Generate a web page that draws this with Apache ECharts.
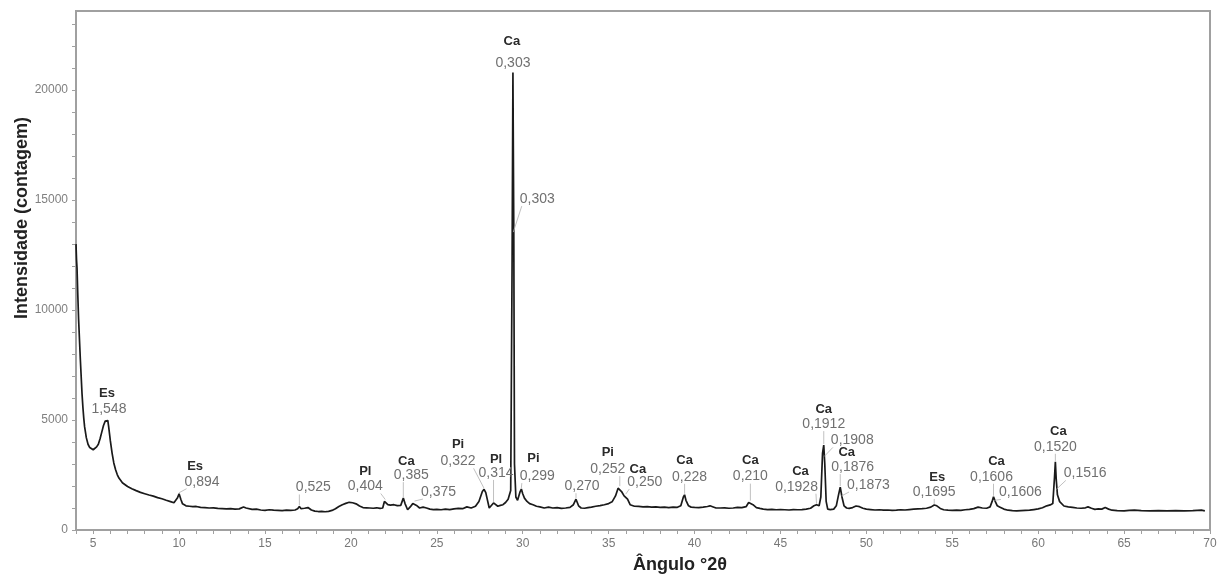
<!DOCTYPE html>
<html><head><meta charset="utf-8">
<script src="https://cdn.jsdelivr.net/npm/echarts@6/dist/echarts.min.js"></script>
<style>html,body{margin:0;padding:0;background:#fff}#c{width:1224px;height:579px}</style>
</head><body><div id="c"></div>
<script>
// ---- data ----
const theta = [4.00,4.03,4.06,4.10,4.15,4.20,4.25,4.30,4.35,4.40,4.45,4.50,4.60,4.70,4.80,4.90,5.00,5.10,5.20,5.30,5.40,5.50,5.60,5.70,5.80,5.85,5.90,6.00,6.10,6.20,6.30,6.40,6.50,6.70,7.00,7.25,7.50,7.75,8.00,8.25,8.50,8.75,9.00,9.25,9.50,9.70,9.80,9.90,10.00,10.10,10.20,10.40,10.60,10.80,11.00,11.25,11.50,11.75,12.00,12.25,12.50,12.75,13.00,13.25,13.50,13.75,13.90,14.00,14.25,14.50,14.75,15.00,15.25,15.50,15.75,16.00,16.25,16.50,16.75,16.90,17.00,17.10,17.30,17.50,17.70,17.90,18.10,18.30,18.50,18.70,18.90,19.10,19.30,19.50,19.70,19.90,20.10,20.30,20.50,20.70,20.90,21.10,21.30,21.50,21.70,21.85,21.95,22.05,22.15,22.30,22.50,22.70,22.90,23.05,23.15,23.30,23.45,23.60,23.70,23.85,24.00,24.20,24.40,24.60,24.80,25.00,25.25,25.50,25.75,26.00,26.25,26.50,26.75,27.00,27.25,27.45,27.65,27.75,27.85,27.95,28.05,28.15,28.30,28.40,28.55,28.70,28.85,29.00,29.15,29.30,29.38,29.43,29.48,29.52,29.60,29.70,29.85,29.92,30.00,30.10,30.25,30.40,30.60,30.80,31.00,31.25,31.50,31.75,32.00,32.25,32.50,32.75,32.95,33.10,33.25,33.40,33.60,33.80,34.00,34.25,34.50,34.75,35.00,35.20,35.40,35.55,35.65,35.75,35.90,36.00,36.10,36.25,36.50,36.75,37.00,37.25,37.50,37.75,38.00,38.25,38.50,38.75,39.00,39.20,39.35,39.42,39.50,39.65,39.80,40.00,40.25,40.50,40.75,40.90,41.05,41.25,41.50,41.75,42.00,42.25,42.50,42.75,43.00,43.15,43.25,43.40,43.60,43.80,44.00,44.25,44.50,44.75,45.00,45.25,45.50,45.75,46.00,46.25,46.50,46.75,46.95,47.10,47.25,47.35,47.45,47.52,47.58,47.66,47.75,47.90,48.10,48.25,48.38,48.48,48.58,48.70,48.85,49.00,49.20,49.40,49.60,49.80,50.00,50.25,50.50,50.75,51.00,51.25,51.50,51.75,52.00,52.25,52.50,52.75,53.00,53.25,53.50,53.75,53.95,54.10,54.30,54.50,54.75,55.00,55.25,55.50,55.75,56.00,56.25,56.50,56.75,57.00,57.20,57.32,57.40,57.50,57.62,57.75,58.00,58.25,58.50,58.75,59.00,59.25,59.50,59.75,60.00,60.25,60.50,60.70,60.85,60.95,61.00,61.05,61.12,61.25,61.50,61.75,62.00,62.25,62.50,62.75,62.90,63.10,63.30,63.50,63.70,63.90,64.10,64.30,64.60,65.00,65.30,65.60,66.00,66.50,67.00,67.50,68.00,68.50,69.00,69.50,69.70];
const counts = [13000,12300,11900,10800,9600,8700,7800,7000,6200,5600,5100,4700,4200,3900,3750,3680,3650,3700,3780,3900,4150,4450,4750,4950,5020,4980,4700,4050,3500,3050,2750,2520,2360,2150,1980,1880,1790,1710,1650,1590,1540,1470,1420,1350,1290,1240,1250,1450,1650,1400,1190,1100,1080,1060,1070,1030,1020,1000,1010,980,970,960,970,950,960,1050,1000,960,940,950,910,890,920,900,890,880,900,890,910,970,1070,970,990,1020,910,860,840,850,830,850,890,970,1070,1150,1210,1260,1240,1190,1090,1020,1010,1000,990,1010,980,1000,1300,1340,1150,1130,1150,1110,1120,1450,1200,920,1050,1200,1270,1100,1000,1040,1000,950,930,940,920,950,930,960,980,970,1050,1000,1080,1300,1750,1850,1700,1350,1000,1050,1230,1160,1080,1120,1150,1250,1400,1800,12000,20800,13500,3000,1500,1350,1750,1860,1650,1450,1300,1200,1150,1080,1050,1000,1040,1000,1020,980,1000,1030,1150,1400,1100,1000,990,1020,1040,1080,1110,1150,1200,1280,1550,1900,1950,1750,1550,1590,1400,1150,1080,1070,1050,1060,1040,1050,1030,1040,1020,1040,1030,1100,1500,1600,1350,1100,1040,1030,1020,1040,1070,1100,1060,1000,1000,1010,990,1000,1030,1020,1060,1250,1290,1150,1020,980,950,930,940,920,930,920,910,930,920,930,950,990,1100,1150,1100,1500,3500,3860,3000,1300,950,930,950,1100,1600,1950,1500,1100,1000,980,1020,1090,1060,990,950,930,910,920,900,910,890,900,920,910,930,950,960,970,990,1040,1140,1100,980,920,900,890,900,890,920,940,970,1040,1000,990,1050,1300,1510,1300,1100,1050,950,900,880,870,880,890,900,930,960,1010,1100,1140,1200,2400,3100,2300,1600,1290,1090,1050,1030,1000,990,1010,1050,990,940,960,950,1020,950,900,880,870,890,900,880,870,880,870,880,870,880,900,870];
const xTickLabels = [5,10,15,20,25,30,35,40,45,50,55,60,65,70];
const yTickLabels = [0,5000,10000,15000,20000];

// peak annotations: position, phase, d-spacing
const peakTheta = [5.8,10.0,17.0,22.0,23.05,23.7,27.75,28.3,29.43,29.45,29.92,33.1,35.65,36.0,39.42,43.25,47.1,47.52,47.55,48.48,48.55,53.95,57.4,57.45,61.0,61.05];
const peakCount = [5000,1650,1070,1340,1450,1270,1850,1230,20800,13500,1860,1400,1950,1590,1600,1290,1150,3860,3300,1950,1500,1140,1510,1300,3100,1800];
const peakPhase = ['Es','Es','','Pl','Ca','','Pi','Pl','Ca','','Pi','','Pi','Ca','Ca','Ca','Ca','Ca','','Ca','','Es','Ca','','Ca',''];
const peakD = ['1,548','0,894','0,525','0,404','0,385','0,375','0,322','0,314','0,303','0,303','0,299','0,270','0,252','0,250','0,228','0,210','0,1928','0,1912','0,1908','0,1876','0,1873','0,1695','0,1606','0,1606','0,1520','0,1516'];

// ---- layout of annotation texts (pixel offsets) ----
const labelDx = [2,23,14,-20,8,24,-26,2.5,0,24,16,6,-12,19,5,0,-20,0,28,12.5,27,0,-2,26,0,29];
const labelDy = [-11,-12,-19,-14,-23,-10,-28,-30,-9,-34,-13,-13,-18,-13,-18,-25,-18,-21,-17,-20,-12,-13,-20,-9,-15,-17];
const phaseDx = [-2,-7,0,0,-5,0,0,0,-1,0,-4,0,0,-7,-5,0,4,0,0,-6,0,3,5,0,3,0];
const phaseDy = [-16,-15,0,-15,-14,0,-17,-14,-22,0,-18,0,-17,-13,-16,-16,-15,-15,0,-15,0,-15,-15,0,-15,0];
const hasLeader = [0,1,1,1,1,1,1,1,0,1,1,1,1,1,1,1,1,1,1,1,1,1,1,1,1,1];

const AXIS = '#a0a0a0';
const FONT = '"Liberation Sans", Arial, sans-serif';
const chart = echarts.init(document.getElementById('c'), null, {renderer: 'canvas'});
chart.setOption({
  animation: false,
  grid: {left: 76, right: 14, top: 11, bottom: 49, show: true, borderColor: AXIS, borderWidth: 2, backgroundColor: 'transparent'},
  xAxis: {
    type: 'value', min: 4, max: 70, interval: 1,
    axisLine: {show: true, onZero: false, lineStyle: {color: AXIS, width: 2}},
    axisTick: {show: true, length: 4, lineStyle: {color: AXIS, width: 1}},
    axisLabel: {formatter: v => xTickLabels.includes(Math.round(v)) && Math.abs(v - Math.round(v)) < 1e-6 ? String(Math.round(v)) : '', color: '#777', fontSize: 12, fontFamily: FONT, margin: 8, showMinLabel: true, showMaxLabel: true},
    splitLine: {show: false}
  },
  yAxis: {
    type: 'value', min: 0, max: 23600, interval: 1000,
    axisLine: {show: true, onZero: false, lineStyle: {color: AXIS, width: 2}},
    axisTick: {show: true, length: 4, lineStyle: {color: AXIS, width: 1}},
    axisLabel: {formatter: v => yTickLabels.includes(v) ? String(v) : '', color: '#808080', fontSize: 12, fontFamily: FONT, margin: 8, showMaxLabel: false},
    splitLine: {show: false}
  },
  series: [{
    type: 'line', data: theta.map((t, i) => [t, counts[i]]),
    showSymbol: false, symbol: 'none', sampling: null,
    lineStyle: {color: '#1a1a1a', width: 1.7}, z: 3
  }]
});

// annotation graphics
const ctx = document.createElement('canvas').getContext('2d');
ctx.font = '14px ' + FONT;
const gfx = [];
peakTheta.forEach((t, i) => {
  const p = chart.convertToPixel({xAxisIndex: 0, yAxisIndex: 0}, [t, peakCount[i]]);
  const vx = p[0] + labelDx[i], vy = p[1] + labelDy[i];
  gfx.push({type: 'text', x: vx, y: vy, z: 10,
    style: {text: peakD[i], font: '14px ' + FONT, fill: '#707070', align: 'center', verticalAlign: 'middle', textAlign: 'center', textVerticalAlign: 'middle'}});
  if (peakPhase[i]) {
    gfx.push({type: 'text', x: vx + phaseDx[i], y: vy + phaseDy[i], z: 10,
      style: {text: peakPhase[i], font: 'bold 13px ' + FONT, fill: '#2a2a2a', align: 'center', verticalAlign: 'middle', textAlign: 'center', textVerticalAlign: 'middle'}});
  }
  if (hasLeader[i]) {
    const w = ctx.measureText(peakD[i]).width;
    const sx = Math.min(Math.max(p[0], vx - w / 2 + 2), vx + w / 2 - 2);
    const sy = vy + 7;
    gfx.push({type: 'line', z: 9, shape: {x1: sx, y1: sy, x2: p[0], y2: p[1] - 1},
      style: {stroke: '#b0b0b0', lineWidth: 0.8}});
  }
});
// axis titles
gfx.push({type: 'text', x: 22, y: 218, rotation: Math.PI / 2, z: 10,
  style: {text: 'Intensidade (contagem)', font: 'bold 18px ' + FONT, fill: '#222', align: 'center', verticalAlign: 'middle', textAlign: 'center', textVerticalAlign: 'middle'}});
gfx.push({type: 'text', x: 680, y: 565, z: 10,
  style: {text: 'Ângulo °2θ', font: 'bold 18px ' + FONT, fill: '#222', align: 'center', verticalAlign: 'middle', textAlign: 'center', textVerticalAlign: 'middle'}});
chart.setOption({graphic: {elements: gfx}});
</script>
</body></html>
